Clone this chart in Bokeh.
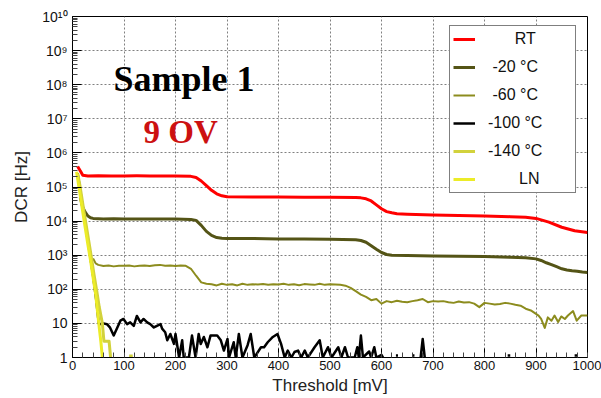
import numpy as np
from bokeh.plotting import figure
from bokeh.models import Range1d, FixedTicker, Legend, LegendItem, Label
from bokeh.embed import file_html
from bokeh.resources import INLINE

nan = float("nan")

# ---------------- data ----------------
x_ticks = [0, 100, 200, 300, 400, 500, 600, 700, 800, 900, 1000]
y_ticks = [1, 10, 100, 1000, 10000, 1e5, 1e6, 1e7, 1e8, 1e9, 1e10]
y_tick_labels = ["1", "10", "10\u00b2", "10\u00b3", "10\u2074", "10\u2075", "10\u2076",
                 "10\u2077", "10\u2078", "10\u2079", "10\u00b9\u2070"]

rt_x = [10, 15, 20, 30, 50, 75, 100, 125, 150, 175, 200,
        230, 240, 250, 260, 270, 280, 290, 300,
        350, 400, 450, 500, 550,
        560, 570, 580, 590, 600, 610, 620, 630,
        650, 700, 750, 800, 850, 880, 900,
        925, 950, 975, 1000]
rt_y = [4.0e5, 3.0e5, 2.2e5, 2.1e5, 2.15e5, 2.1e5, 2.1e5, 2.12e5, 2.1e5, 2.1e5, 2.1e5,
        2.05e5, 1.9e5, 1.5e5, 1.1e5, 8.0e4, 6.3e4, 5.5e4, 5.2e4,
        5.1e4, 5.1e4, 5.0e4, 5.0e4, 4.9e4,
        4.8e4, 4.5e4, 3.9e4, 3.0e4, 2.3e4, 1.9e4, 1.75e4, 1.65e4,
        1.6e4, 1.5e4, 1.45e4, 1.4e4, 1.35e4, 1.3e4, 1.2e4,
        9.3e3, 6.6e3, 5.2e3, 4.6e3]

m20_x = [15, 20, 25, 30, 35, 40,
         60, 80, 100, 125, 150, 175, 200,
         230, 240, 250, 260, 270, 280, 290, 300,
         350, 400, 450, 500, 550,
         560, 570, 580, 590, 600, 610, 620,
         650, 700, 750, 800, 850, 880, 900,
         910, 920, 930, 940, 950, 960, 970, 980, 990, 1000]
m20_y = [5e4, 2.5e4, 1.8e4, 1.4e4, 1.25e4, 1.2e4,
         1.15e4, 1.17e4, 1.15e4, 1.16e4, 1.15e4, 1.16e4, 1.15e4,
         1.12e4, 1.05e4, 7.5e3, 5.0e3, 3.8e3, 3.3e3, 3.15e3, 3.1e3,
         3.1e3, 3.0e3, 3.0e3, 2.95e3, 2.85e3,
         2.7e3, 2.4e3, 1.9e3, 1.5e3, 1.2e3, 1.05e3, 1.0e3,
         980, 950, 930, 910, 870, 840, 780,
         700, 600, 530, 460, 400, 370, 350, 340, 320, 310]

m60_x = [40, 45] + list(range(50, 900, 10)) + [900, 905, 910, 917, 923, 930, 936, 943,
                                              949, 956, 962, 972, 979, 988, 1000]
m60_y = [800, 575,
         520, 480, 500, 470, 490,
         490, 500, 470, 490, 500, 480, 505, 520, 490, 500,
         480, 500, 490, 400, 250, 160, 145, 140, 130, 145,
         135, 140, 130, 145, 135, 140, 138, 142, 135, 140,
         138, 145, 135, 140, 132, 142, 138, 135, 145, 135,
         140, 138, 135, 128, 110, 88, 70, 60, 48, 52,
         38, 45, 42, 46, 43, 42, 45, 48, 52, 42,
         45, 44, 45, 42, 40, 44, 41, 42, 38, 30,
         40, 38, 36, 37, 40, 38, 35, 33, 27, 24,
         19, 17, 13.5, 7.4, 15, 12, 17, 11,
         16, 13.5, 17, 23, 12, 17, 17]

m100_x = [10, 20, 30, 40, 46, 51, 55, 60, 67, 73,
          80, 86, 93, 99, 106, 112, 119, 125, 132, 138,
          145, 151, 158, 164, 171, 174, 180, 184, 190, 197,
          200, 207, 213, 216, 226, 232, 239, 245, 249, 255,
          262, 268, 281, 288, 294, 301, 304, 313, 317, 323,
          330, 340, 346, 353, 366, 372, 379, 389, 398, 405,
          412, 418, 425, 431, 438, 444, 451, 457, 470, 480,
          486, 496, 503, 516, 522, 529, 535, 548, 553, 556,
          560, 564, 576, 580, 586, 590, 600, 603,
          nan, 628, 632, nan, 660, 664, nan, 676, 680, 684, nan, 845, 850, nan, 975, 980]
m100_y = [2.5e5, 2.5e4, 2.5e3, 250, 50, 10, 9.5, 10, 9.5, 7.5,
          4.4, 7, 12, 13.5, 9.5, 10.7, 8.5, 16.5, 10.7, 13.5,
          10.7, 9.5, 7.6, 8.5, 9.5, 7, 5.5, 3.2, 4.9, 2.5,
          4.9, 1, 3.2, 1, 1, 4.4, 1, 4.9, 2.5, 4,
          2, 4.4, 4.4, 3.2, 1.6, 3.5, 1, 2.8, 1, 4.9,
          1, 2.3, 4.9, 1, 2, 2, 2.8, 4, 4.9, 2.5,
          1, 1.6, 1, 1.45, 1.6, 1, 1.6, 1, 2, 3.2,
          1, 2, 1, 2, 1, 2, 1, 1, 2, 1,
          4.4, 1, 1.5, 1, 2, 1, 1.2, 1,
          nan, 1.15, 1.15, nan, 1.15, 1.15, nan, 1, 3.5, 1, nan, 1.15, 1.15, nan, 1.15, 1.15]

m140_x = [10, 14, 18, 22, 27, 32, 37, 42, 47, 52, 58, 61, 71, 74, nan, 110, 117]
m140_y = [2.5e5, 1.2e5, 5e4, 2.0e4, 7e3, 2.4e3, 800, 260, 90, 30, 10, 3, 3, 1, nan, 1.1, 1.1]

ln_x = [8, 12, 16, 20, 25, 30, 35, 40, 45, 51, 55, 58]
ln_y = [2.8e5, 1.1e5, 4.5e4, 1.8e4, 6e3, 2.0e3, 700, 220, 70, 10, 3, 1]

series = [
    ("\u00a0" * 6 + "RT", rt_x, rt_y, "#ff0000", 3),
    ("\u00a0" + "-20 \u00b0C", m20_x, m20_y, "#545416", 3),
    ("\u00a0" + "-60 \u00b0C", m60_x, m60_y, "#8c8c1e", 2),
    ("-100 \u00b0C", m100_x, m100_y, "#000000", 2.5),
    ("-140 \u00b0C", m140_x, m140_y, "#d2d23c", 3),
    ("\u00a0" * 7 + "LN", ln_x, ln_y, "#ecec28", 3),
]

# ---------------- figure ----------------
p = figure(width=601, height=398, x_range=Range1d(0, 1000), y_range=Range1d(1, 1e10),
           y_axis_type="log", output_backend="svg", toolbar_location=None,
           min_border_left=72, min_border_right=14, min_border_top=16, min_border_bottom=41,
           background_fill_color="white", border_fill_color="white")

p.outline_line_color = "black"
p.outline_line_width = 1
p.outline_line_alpha = 1

p.xaxis.ticker = FixedTicker(ticks=x_ticks, minor_ticks=list(range(0, 1001, 20)))
p.yaxis.ticker = FixedTicker(ticks=y_ticks,
                             minor_ticks=[m * t for t in y_ticks[:-1] for m in range(2, 10)])
p.yaxis.major_label_overrides = {float(t): s for t, s in zip(y_ticks, y_tick_labels)}

p.xgrid.ticker = FixedTicker(ticks=x_ticks)
p.ygrid.ticker = FixedTicker(ticks=y_ticks)
p.grid.grid_line_color = "#808080"
p.grid.grid_line_dash = "2 2"
p.grid.grid_line_width = 1
p.xgrid.minor_grid_line_color = None
p.ygrid.minor_grid_line_color = None

for ax in (p.xaxis[0], p.yaxis[0]):
    ax.axis_line_color = "black"
    ax.major_tick_in = 9
    ax.major_tick_out = 0
    ax.minor_tick_in = 5
    ax.minor_tick_out = 0
    ax.major_tick_line_color = "black"
    ax.minor_tick_line_color = "#444444"
    ax.major_label_text_font = "Liberation Sans"
    ax.major_label_text_font_size = "13px"
    ax.major_label_text_color = "#111111"
    ax.axis_label_text_font = "Liberation Sans"
    ax.axis_label_text_font_style = "normal"
    ax.axis_label_text_font_size = "17px"
    ax.axis_label_text_color = "#222222"

p.yaxis.major_label_text_font_size = "14px"
p.xaxis.axis_label = "Threshold [mV]"
p.yaxis.axis_label = "DCR [Hz]"
p.xaxis.major_label_standoff = 3
p.xaxis.axis_label_standoff = 3
p.yaxis.major_label_standoff = 5
p.yaxis.axis_label_standoff = 8

items = []
for label, xs, ys, color, lw in series:
    r = p.line(x=np.array(xs, dtype=float), y=np.array(ys, dtype=float),
               line_color=color, line_width=lw, line_join="round")
    items.append(LegendItem(label=label, renderers=[r]))

legend = Legend(items=items, location=(377, 164), padding=3, spacing=8, margin=0,
                glyph_width=22, glyph_height=20, label_height=20, label_width=84,
                label_standoff=13, label_text_font="Liberation Sans",
                label_text_font_size="16px", label_text_color="#111111",
                border_line_color="black", border_line_width=1,
                background_fill_color="white", background_fill_alpha=1)
p.add_layout(legend)

p.add_layout(Label(x=41, y=279, x_units="screen", y_units="screen", text="Sample 1",
                   text_font="Liberation Serif", text_font_style="bold",
                   text_font_size="36px", text_color="black", text_baseline="alphabetic"))
p.add_layout(Label(x=71, y=226, x_units="screen", y_units="screen", text="9 OV",
                   text_font="Liberation Serif", text_font_style="bold",
                   text_font_size="33px", text_color="#cc1111", text_baseline="alphabetic"))
p.add_layout(Label(x=-71, y=4, x_units="screen", y_units="screen", text="0",
                   text_font="Liberation Sans", text_font_size="13px", text_color="#333333",
                   text_baseline="alphabetic"))

open("out.html", "w").write(file_html(p, INLINE))
